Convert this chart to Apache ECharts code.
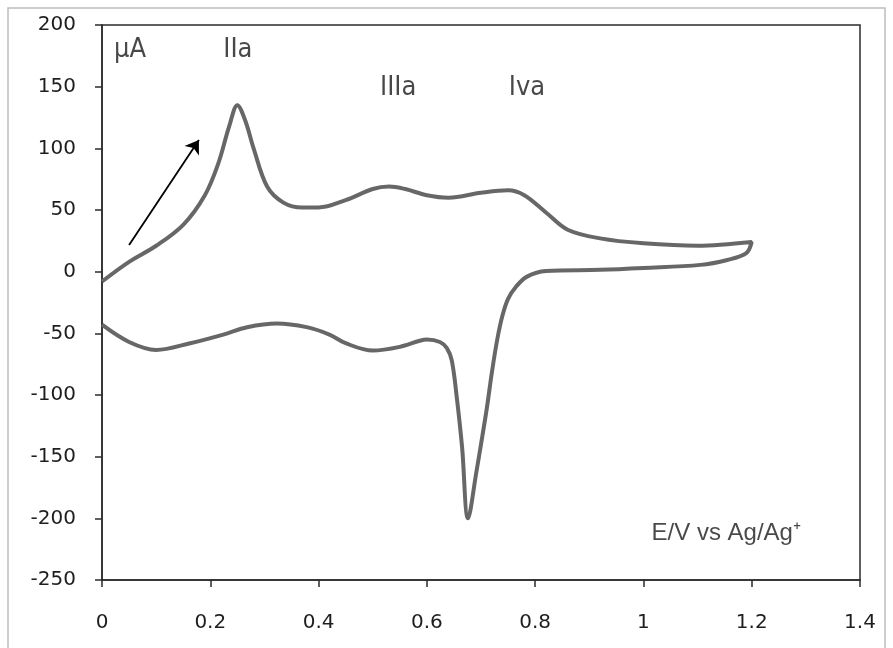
<!DOCTYPE html>
<html>
<head>
<meta charset="utf-8">
<script src="https://cdn.jsdelivr.net/npm/echarts@6/dist/echarts.min.js"></script>
<style>
  html, body { margin: 0; padding: 0; background: #fff; }
  #chart { width: 893px; height: 648px; }
</style>
</head>
<body>
<div id="chart"></div>
<script>
// 扫描电位 (V) 与电流 (μA)：正扫 0 -> 1.2 V，再回扫 1.2 -> 0 V
const potential = [
    0, 0.05, 0.1, 0.15, 0.19, 0.215, 0.235, 0.25, 0.265, 0.28, 0.305, 0.335, 0.37, 0.40, 0.45, 0.50, 0.53, 0.56, 0.60, 0.64, 0.70, 0.75, 0.78, 0.82, 0.86, 0.92, 1.0, 1.1, 1.2,
    1.19, 1.155, 1.105, 1.0, 0.92, 0.82, 0.785, 0.765, 0.75, 0.74, 0.73, 0.72, 0.711, 0.70, 0.692, 0.676, 0.665, 0.655, 0.646, 0.637, 0.624, 0.60, 0.587, 0.55, 0.50, 0.45, 0.42, 0.378, 0.323, 0.268, 0.224, 0.163, 0.10, 0.05, 0
];
const current = [
    -8, 8, 21, 38, 62, 88, 118, 135, 122, 100, 69, 56, 52, 52, 58, 67, 69, 67, 62, 60, 64, 66, 62, 48, 34, 27, 23, 21, 24,
    15, 9.5, 5.5, 3, 1.5, 0.5, -4, -12, -22, -35, -55, -82, -110, -140, -161, -200, -142, -101, -72, -62, -57, -55, -56, -61, -64, -58, -51, -45, -42, -45, -51, -58, -63.5, -57, -43
];

// 坐标轴刻度
const xTicks = [0, 0.2, 0.4, 0.6, 0.8, 1, 1.2, 1.4];
const yTicks = [-250, -200, -150, -100, -50, 0, 50, 100, 150, 200];

// 图中注释文字及其位置 (数据坐标)
const noteText = ['μA', 'IIa', 'IIIa', 'Iva'];
const noteX = [0.052, 0.251, 0.547, 0.785];
const noteY = [180, 180, 149, 149];
const axisNote = 'E/V vs Ag/Ag\u207A';
const axisNotePos = [1.153, -212];

// 扫描方向箭头 (起点 -> 终点)
const arrowFrom = [0.050, 21.6];
const arrowTo = [0.179, 106.8];

const chart = echarts.init(document.getElementById('chart'));

const cvData = potential.map((v, i) => [v, current[i]]);
const noteData = noteText.map((t, i) => ({ value: [noteX[i], noteY[i]], name: t }));

const option = {
    backgroundColor: '#fff',
    animation: false,
    graphic: [
        {
            type: 'rect',
            shape: { x: 8, y: 8, width: 877, height: 660 },
            style: { fill: 'none', stroke: '#bdbdbd', lineWidth: 1.5 },
            silent: true
        }
    ],
    grid: {
        left: 102,
        right: 33,
        top: 25,
        bottom: 68,
        show: true,
        borderColor: '#2b2b2b',
        borderWidth: 1.5
    },
    xAxis: {
        type: 'value',
        min: xTicks[0],
        max: xTicks[xTicks.length - 1],
        interval: 0.2,
        splitLine: { show: false },
        axisLine: { onZero: false, lineStyle: { color: '#2b2b2b', width: 1.5 } },
        axisTick: { show: true, inside: false, length: 7, lineStyle: { color: '#2b2b2b', width: 1.5 } },
        axisLabel: {
            margin: 33,
            color: '#1e1e1e',
            fontFamily: 'DejaVu Sans',
            fontSize: 20,
            formatter: v => String(Math.round(v * 10) / 10)
        }
    },
    yAxis: {
        type: 'value',
        min: yTicks[0],
        max: yTicks[yTicks.length - 1],
        interval: 50,
        splitLine: { show: false },
        axisLine: { onZero: false, lineStyle: { color: '#2b2b2b', width: 1.5 } },
        axisTick: { show: true, inside: false, length: 7, lineStyle: { color: '#2b2b2b', width: 1.5 } },
        axisLabel: {
            margin: 26,
            color: '#1e1e1e',
            fontFamily: 'DejaVu Sans',
            fontSize: 20
        }
    },
    series: [
        {
            name: 'CV',
            type: 'line',
            data: cvData,
            smooth: 0.35,
            showSymbol: false,
            lineStyle: { color: '#676767', width: 4 },
            markLine: {
                silent: true,
                symbol: ['none', 'arrow'],
                symbolSize: 13,
                label: { show: false },
                lineStyle: { color: '#000', width: 1.8, type: 'solid' },
                data: [[{ coord: arrowFrom }, { coord: arrowTo }]]
            }
        },
        {
            name: 'notes',
            type: 'scatter',
            symbolSize: 0,
            silent: true,
            data: noteData,
            label: {
                show: true,
                position: 'inside',
                formatter: p => p.name,
                color: '#1a1a1a',
                fontFamily: 'DejaVu Sans Condensed',
                fontSize: 27
            }
        },
        {
            name: 'axisNote',
            type: 'scatter',
            symbolSize: 0,
            silent: true,
            data: [{ value: axisNotePos, name: axisNote }],
            label: {
                show: true,
                position: 'inside',
                formatter: p => p.name,
                color: '#1a1a1a',
                fontFamily: 'Liberation Sans',
                fontSize: 24
            }
        }
    ]
};

chart.setOption(option);
</script>
</body>
</html>
